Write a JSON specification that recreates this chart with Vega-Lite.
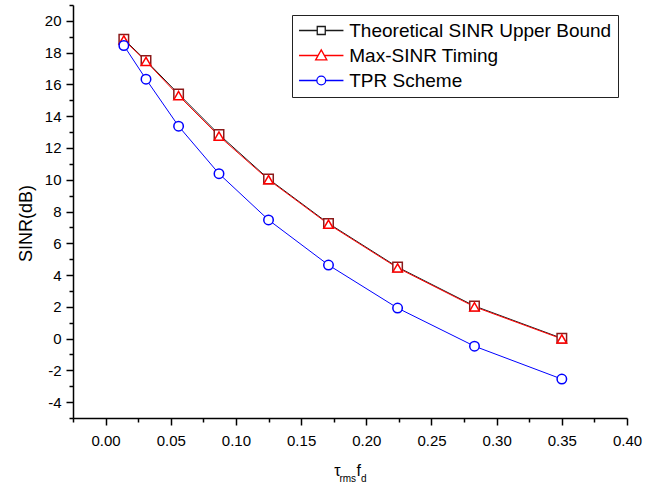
{
  "$schema": "https://vega.github.io/schema/vega-lite/v6.json",
  "autosize": "none",
  "width": 554,
  "height": 413,
  "padding": {"left": 73, "top": 5, "right": 37, "bottom": 71},
  "background": "white",
  "title": {"text": "rms\u2002d", "orient": "bottom", "anchor": "middle", "frame": "group", "font": "Liberation Sans", "fontSize": 10, "fontWeight": "normal", "color": "black", "dx": 3, "offset": -4},
  "config": {
    "view": {"stroke": null},
    "font": "Liberation Sans",
    "axis": {"grid": false, "domainColor": "black", "domainWidth": 1.5, "tickColor": "black", "tickWidth": 1.5, "labelColor": "black", "labelFont": "Liberation Sans", "labelFontSize": 15, "titleFont": "Liberation Sans", "titleColor": "black", "titleFontWeight": "normal"}
  },
  "data": {"values": [
    {"series": "Theoretical SINR Upper Bound", "marker": "square", "x": 0.014, "y": 18.85},
    {"series": "Theoretical SINR Upper Bound", "marker": "square", "x": 0.031, "y": 17.5},
    {"series": "Theoretical SINR Upper Bound", "marker": "square", "x": 0.056, "y": 15.4},
    {"series": "Theoretical SINR Upper Bound", "marker": "square", "x": 0.087, "y": 12.85},
    {"series": "Theoretical SINR Upper Bound", "marker": "square", "x": 0.125, "y": 10.05},
    {"series": "Theoretical SINR Upper Bound", "marker": "square", "x": 0.171, "y": 7.25},
    {"series": "Theoretical SINR Upper Bound", "marker": "square", "x": 0.224, "y": 4.5},
    {"series": "Theoretical SINR Upper Bound", "marker": "square", "x": 0.283, "y": 2.05},
    {"series": "Theoretical SINR Upper Bound", "marker": "square", "x": 0.35, "y": 0.02},
    {"series": "Max-SINR Timing", "marker": "triangle", "x": 0.014, "y": 18.8},
    {"series": "Max-SINR Timing", "marker": "triangle", "x": 0.031, "y": 17.45},
    {"series": "Max-SINR Timing", "marker": "triangle", "x": 0.056, "y": 15.3},
    {"series": "Max-SINR Timing", "marker": "triangle", "x": 0.087, "y": 12.75},
    {"series": "Max-SINR Timing", "marker": "triangle", "x": 0.125, "y": 10.0},
    {"series": "Max-SINR Timing", "marker": "triangle", "x": 0.171, "y": 7.2},
    {"series": "Max-SINR Timing", "marker": "triangle", "x": 0.224, "y": 4.45},
    {"series": "Max-SINR Timing", "marker": "triangle", "x": 0.283, "y": 2.0},
    {"series": "Max-SINR Timing", "marker": "triangle", "x": 0.35, "y": -0.02},
    {"series": "TPR Scheme", "marker": "circle", "x": 0.014, "y": 18.45},
    {"series": "TPR Scheme", "marker": "circle", "x": 0.031, "y": 16.33},
    {"series": "TPR Scheme", "marker": "circle", "x": 0.056, "y": 13.37},
    {"series": "TPR Scheme", "marker": "circle", "x": 0.087, "y": 10.38},
    {"series": "TPR Scheme", "marker": "circle", "x": 0.125, "y": 7.47},
    {"series": "TPR Scheme", "marker": "circle", "x": 0.171, "y": 4.63},
    {"series": "TPR Scheme", "marker": "circle", "x": 0.224, "y": 1.92},
    {"series": "TPR Scheme", "marker": "circle", "x": 0.283, "y": -0.48},
    {"series": "TPR Scheme", "marker": "circle", "x": 0.35, "y": -2.55}
  ]},
  "encoding": {
    "x": {"field": "x", "type": "quantitative",
      "scale": {"domain": [-0.025, 0.4], "nice": false, "zero": false},
      "axis": {
        "values": [-0.025, 0, 0.025, 0.05, 0.075, 0.1, 0.125, 0.15, 0.175, 0.2, 0.225, 0.25, 0.275, 0.3, 0.325, 0.35, 0.375, 0.4],
        "labelExpr": "abs(round(datum.value*40)) % 2 == 0 ? format(datum.value, '.2f') : ''",
        "tickSize": {"condition": {"test": "abs(round(datum.value*40)) % 2 == 0", "value": 7}, "value": 4},
        "labelPadding": 8,
        "labelFlush": false,
        "labelOverlap": false,
        "title": "\u03c4\u2002\u2002f",
        "titleFontSize": 16,
        "titleX": 274,
        "titleY": 57,
        "titleAlign": "center",
        "titleBaseline": "alphabetic"
      }
    },
    "y": {"field": "y", "type": "quantitative",
      "scale": {"domain": [-5, 21], "nice": false, "zero": false},
      "axis": {
        "values": [-5, -4, -3, -2, -1, 0, 1, 2, 3, 4, 5, 6, 7, 8, 9, 10, 11, 12, 13, 14, 15, 16, 17, 18, 19, 20, 21],
        "labelExpr": "datum.value % 2 == 0 ? '' + datum.value : ''",
        "tickSize": {"condition": {"test": "datum.value % 2 == 0", "value": 7}, "value": 4},
        "labelPadding": 5,
        "labelFlush": false,
        "labelOverlap": false,
        "title": "SINR(dB)",
        "titleFontSize": 18,
        "titleAngle": 270,
        "titleX": -42,
        "titleY": 218,
        "titleAlign": "center",
        "titleBaseline": "alphabetic"
      }
    }
  },
  "layer": [
    {
      "mark": {"type": "line", "strokeWidth": 1},
      "encoding": {
        "color": {"field": "series", "type": "nominal",
          "scale": {"domain": ["Theoretical SINR Upper Bound", "Max-SINR Timing", "TPR Scheme"], "range": ["#1a1a1a", "#ff0000", "#0000ff"]},
          "legend": {
            "title": null,
            "orient": "none",
            "legendX": 219,
            "legendY": 10,
            "padding": 6,
            "strokeColor": "#222222",
            "fillColor": "white",
            "labelFont": "Liberation Sans",
            "labelFontSize": 19,
            "labelColor": "black",
            "labelLimit": 400,
            "symbolSize": 64,
            "symbolStrokeWidth": 1.3,
            "symbolOffset": 13.75,
            "labelOffset": 18.5,
            "rowPadding": 5,
            "encode": {
              "symbols": {
                "update": {
                  "shape": {"signal": "datum.value == 'Theoretical SINR Upper Bound' ? 'M-5.55,0H-1M1,0H5.55M-1,-1H1V1H-1Z' : datum.value == 'Max-SINR Timing' ? 'M-5.55,0H-0.78M0.78,0H5.55M-1.4,1.1L0,-1.4L1.4,1.1Z' : 'M-5.55,0H-1.1M1.1,0H5.55M-1.1,0A1.1,1.1 0 1,0 1.1,0A1.1,1.1 0 1,0 -1.1,0Z'"},
                  "fill": {"value": "white"}
                }
              }
            }
          }
        }
      }
    },
    {
      "mark": {"type": "point", "filled": true, "fill": "white", "strokeWidth": 1.5, "size": 90, "opacity": 1},
      "encoding": {
        "stroke": {"field": "marker", "type": "nominal",
          "scale": {"domain": ["square", "triangle", "circle"], "range": ["#8b1a1a", "#ff0000", "#0000ff"]},
          "legend": null},
        "shape": {"field": "marker", "type": "nominal",
          "scale": {"domain": ["square", "triangle", "circle"], "range": ["square", "triangle-up", "circle"]},
          "legend": null}
      }
    }
  ]
}
